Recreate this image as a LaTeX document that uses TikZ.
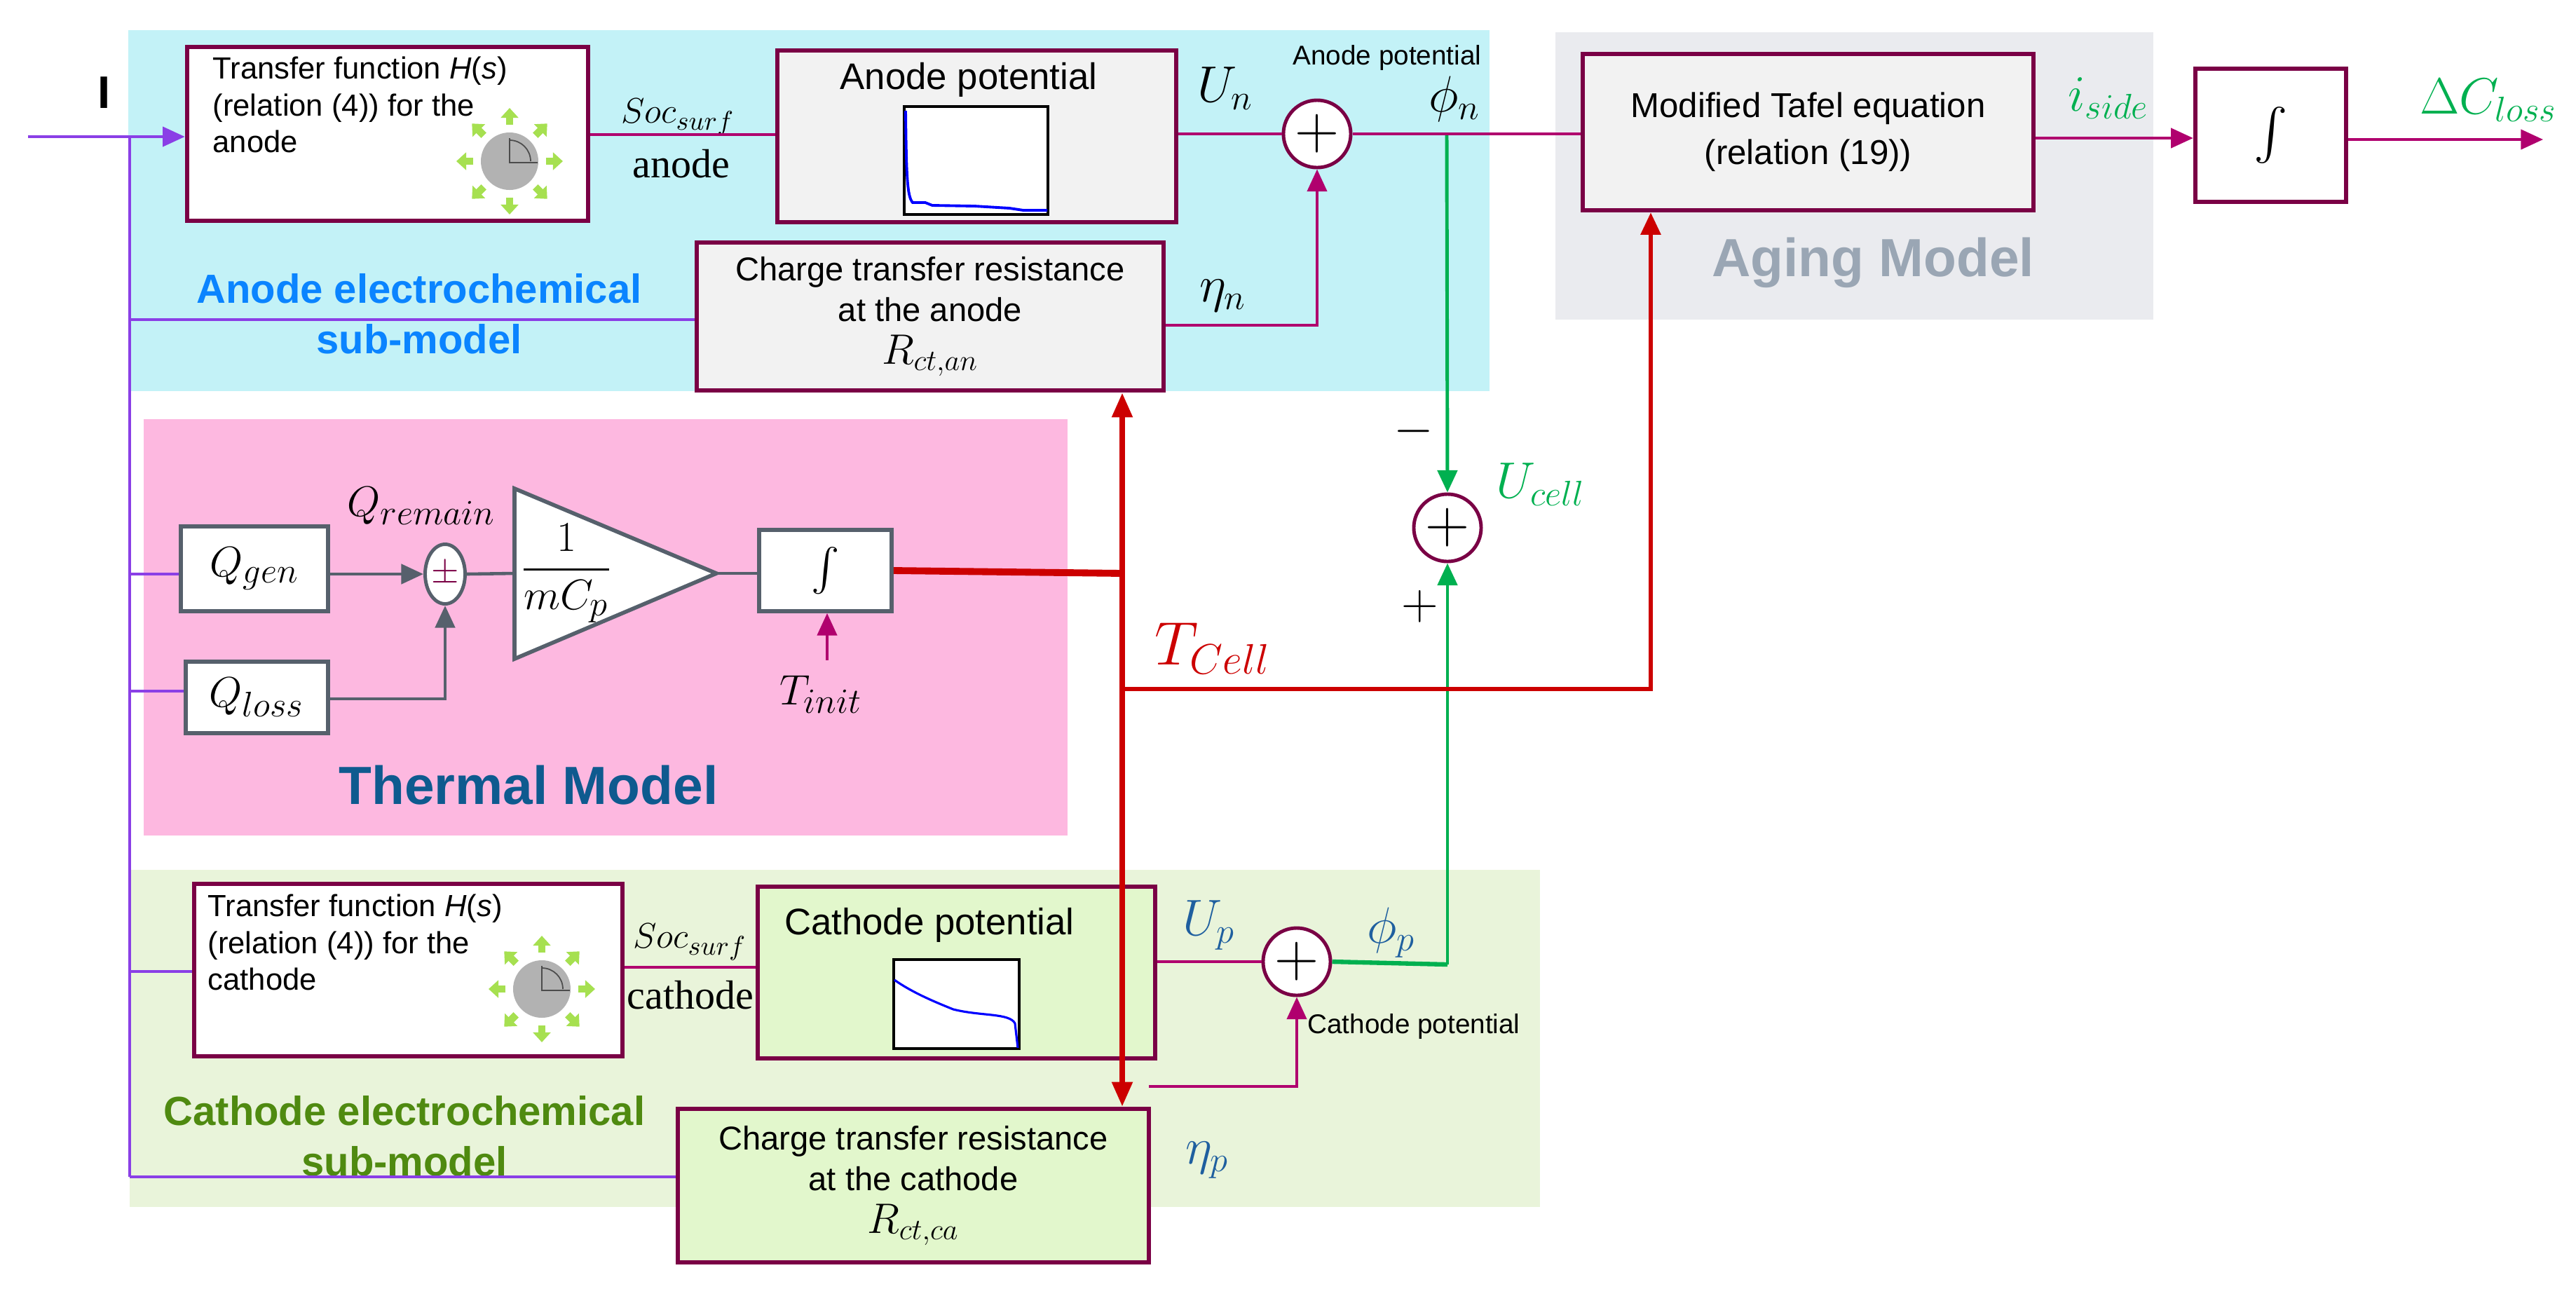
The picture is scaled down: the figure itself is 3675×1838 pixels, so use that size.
\documentclass[tikz,border=0pt]{standalone}
\usepackage{fontspec}
\setmainfont{Liberation Sans}
\newfontfamily\serifx{Liberation Serif}
\usepackage{amsmath}
\usetikzlibrary{arrows.meta,shapes.geometric,calc}
\definecolor{boxc}{HTML}{7A0045}
\definecolor{linec}{HTML}{B0006E}
\definecolor{purp}{HTML}{8A3FE6}
\definecolor{redc}{HTML}{CC0000}
\definecolor{grn}{HTML}{00B050}
\definecolor{blu}{HTML}{1F5F9F}
\definecolor{cyanbg}{HTML}{C3F2F7}
\definecolor{graybg}{HTML}{EAEBEF}
\definecolor{pinkbg}{HTML}{FDB8E0}
\definecolor{grnbg}{HTML}{E9F4DA}
\definecolor{lgray}{HTML}{F2F2F2}
\definecolor{lgrn}{HTML}{E2F7CC}
\definecolor{tgray}{HTML}{56606C}
\definecolor{icong}{HTML}{A6E050}
\definecolor{ablue}{HTML}{0A84FF}
\definecolor{cgr}{HTML}{4F8A10}
\definecolor{tb}{HTML}{0E5A8F}
\definecolor{ag}{HTML}{9AA6B4}
\begin{document}
\begin{tikzpicture}[x=0.01cm,y=-0.01cm,
 box/.style={draw=boxc,line width=1.8pt,fill=white,inner sep=0},
 tbox/.style={draw=tgray,line width=1.6pt,fill=white,inner sep=0},
 lab/.style={font=\fontsize{12.4}{15}\selectfont,align=left,inner sep=0},
 clab/.style={font=\fontsize{13.4}{16.5}\selectfont,align=center,inner sep=0},
 ml/.style={font=\fontsize{22}{24}\selectfont,inner sep=0},
 qm/.style={font=\fontsize{19}{22}\selectfont,inner sep=0},
 sm/.style={font=\fontsize{11}{13}\selectfont,inner sep=0},
 sumn/.style={circle,draw=boxc,line width=1.4pt,minimum size=0.96cm,inner sep=0,fill=white,font=\fontsize{24}{24}\selectfont},
 mline/.style={draw=linec,line width=1.1pt},
 pline/.style={draw=purp,line width=1.1pt},
 tip/.style={-{Triangle[length=9pt,width=8pt]}},
 big/.style={font=\bfseries\fontsize{16.5}{20.5}\selectfont,align=center,inner sep=0}]
\useasboundingbox (0,0) rectangle (3675,1838);
% backgrounds
\fill[cyanbg] (183,43) rectangle (2125,558);
\fill[graybg] (2219,46) rectangle (3072,456);
\fill[pinkbg] (205,598) rectangle (1523,1192);
\fill[grnbg] (185,1241) rectangle (2197,1722);
% boxes
\node[box,minimum width=5.72cm,minimum height=2.48cm] (TFa) at (553,191) {};
\node[lab,anchor=north west] (TFat) at (303,80) {Transfer function \textit{H}(\textit{s})\\(relation (4)) for the\\anode};
\node[box,fill=lgray,minimum width=5.69cm,minimum height=2.45cm] (Apot) at (1393.5,194.5) {};
\node[font=\fontsize{15}{18}\selectfont,inner sep=0] (Apott) at (1382,114) {Anode potential};
\node[box,fill=lgray,minimum width=6.66cm,minimum height=2.11cm,clab] (Rcan) at (1327,451.5) {Charge transfer resistance\\at the anode\\[1pt]{\fontsize{16.5}{18}\selectfont$R_{ct,an}$}};
\node[box,fill=lgray,minimum width=6.43cm,minimum height=2.23cm,font=\fontsize{14}{19}\selectfont,align=center] (Tafel) at (2579.5,188.5) {Modified Tafel equation\\(relation (19))};
\node[box,minimum width=2.15cm,minimum height=1.90cm,font=\fontsize{20}{22}\selectfont] (Int2) at (3239.5,193) {$\int$};
\node[box,minimum width=6.11cm,minimum height=2.46cm] (TFc) at (582.5,1384) {};
\node[lab,anchor=north west] (TFct) at (296,1275) {Transfer function \textit{H}(\textit{s})\\(relation (4)) for the\\cathode};
\node[box,fill=lgrn,minimum width=5.67cm,minimum height=2.45cm] (Cpot) at (1364.5,1387.5) {};
\node[font=\fontsize{15}{18}\selectfont,inner sep=0] (Cpott) at (1326,1320) {Cathode potential};
\node[box,fill=lgrn,minimum width=6.72cm,minimum height=2.19cm,clab] (Rcca) at (1303,1691.5) {Charge transfer resistance\\at the cathode\\[1pt]{\fontsize{16.5}{18}\selectfont$R_{ct,ca}$}};
% sums
\node[sumn] (Sa) at (1879,191) {$+$};
\node[sumn] (Sc) at (1850,1372) {$+$};
\node[sumn] (Su) at (2065,753) {$+$};
% thermal
\node[tbox,minimum width=2.10cm,minimum height=1.21cm,qm] (Qgen) at (363,811.5) {$Q_{gen}$};
\node[tbox,minimum width=2.03cm,minimum height=1.02cm,qm] (Qloss) at (366.5,995) {$Q_{loss}$};
\node[ellipse,draw=tgray,line width=1.4pt,fill=white,minimum width=0.57cm,minimum height=0.85cm,inner sep=0] (Pm) at (635,819) {};
\node[text=boxc,font=\bfseries\fontsize{15}{15}\selectfont,inner sep=0] (Pmt) at (635,819) {$\pm$};
\coordinate (GT) at (734,697);
\coordinate (GB) at (734,940);
\coordinate (GA) at (1022,818);
\coordinate (GW) at (734,818);
\filldraw[fill=white,draw=tgray,line width=1.6pt,line join=miter] (GT) -- (GA) -- (GB) -- cycle;
\node[qm] (Gt) at (808,818) {$\dfrac{1}{mC_p}$};
\node[tbox,minimum width=1.89cm,minimum height=1.16cm,font=\fontsize{18}{20}\selectfont] (Int1) at (1177.5,814) {$\int$};
\node[qm] (Qrem) at (601,722) {$Q_{remain}$};
\node[qm] (Tinit) at (1171,991) {$T_{init}$};
\coordinate (TiB) at (1180,942);
\draw[tgray,line width=1.3pt,tip] (Qgen.east|-Pm) -- (Pm.west);
\draw[tgray,line width=1.3pt,tip] (Qloss.east|-0,997) -| (Pm.south);
\draw[tgray,line width=1.3pt] (Pm.east) -- (GW);
\draw[tgray,line width=1.3pt] (GA) -- (Int1.west|-GA);
\draw[linec,line width=1.1pt,tip] (TiB) -- (Int1.south-|TiB);
% labels
\node[font=\bfseries\fontsize{18.5}{18.5}\selectfont,inner sep=0] (I) at (149,132) {I};
\node[font=\fontsize{15}{17}\selectfont,inner sep=0] (Soca) at (967,167) {$Soc_{surf}$};
\node[font=\serifx\fontsize{16.5}{18}\selectfont,inner sep=0] (ana) at (972,234) {anode};
\node[font=\fontsize{15}{17}\selectfont,inner sep=0] (Socc) at (984,1344) {$Soc_{surf}$};
\node[font=\serifx\fontsize{16.5}{18}\selectfont,inner sep=0] (cac) at (985,1420) {cathode};
\node[ml] (Un) at (1748,126) {$U_n$};
\node[ml] (etan) at (1745,422) {$\eta_n$};
\node[sm] (apl) at (1979,82) {Anode potential};
\node[ml] (phin) at (2075,141) {$\phi_n$};
\node[ml,text=blu] (Up) at (1725,1320) {$U_p$};
\node[ml,text=blu] (etap) at (1722,1655) {$\eta_p$};
\node[ml,text=blu] (phip) at (1985,1331) {$\phi_p$};
\node[sm] (cpl) at (2017,1464) {Cathode potential};
\node[ml,text=grn,font=\fontsize{21}{24}\selectfont] (Ucell) at (2198,691) {$U_{cell}$};
\node[font=\fontsize{22}{22}\selectfont,inner sep=0] (minus) at (2017,615) {$-$};
\node[font=\fontsize{22}{22}\selectfont,inner sep=0] (plus) at (2026,865) {$+$};
\node[ml,text=redc,font=\fontsize{24}{26}\selectfont] (Tc) at (1730,925) {$T_{Cell}$};
\node[ml,text=grn,font=\fontsize{21}{24}\selectfont] (iside) at (3008,140) {$i_{side}$};
\node[ml,text=grn,font=\fontsize{21}{24}\selectfont] (dC) at (3550,143) {$\Delta C_{loss}$};
\node[big,text=ablue] (Anl) at (598,448) {Anode electrochemical\\sub-model};
\node[big,text=cgr] (Cl) at (577,1621) {Cathode electrochemical\\sub-model};
\node[big,text=tb,font=\bfseries\fontsize{21.8}{24}\selectfont] (Tml) at (754,1120) {Thermal Model};
\node[big,text=ag,font=\bfseries\fontsize{21.8}{24}\selectfont] (Agl) at (2672,375) {Aging Model};
% input lines
\coordinate (In) at (40,195);
\coordinate (Ltop) at (185,195);
\coordinate (Lbot) at (185,1679);
\draw[pline,tip] (In) -- (TFa.west|-In);
\draw[pline] (Ltop) -- (Lbot);
\draw[pline] (185,456) -- (Rcan.west|-0,456);
\draw[pline] (185,819) -- (Qgen.west|-0,819);
\draw[pline] (185,986) -- (Qloss.west|-0,986);
\draw[pline] (185,1386) -- (TFc.west|-0,1386);
\draw[pline] (Lbot) -- (Rcca.west|-Lbot);
% anode chain
\draw[mline] (TFa.east|-0,192) -- (Apot.west|-0,192);
\draw[mline] (Apot.east|-Sa) -- (Sa.west);
\draw[mline,tip] (Rcan.east|-0,464) -| (Sa.south);
\draw[mline] (Sa.east) -- (Tafel.west|-Sa);
\draw[mline,tip] (Tafel.east|-0,197) -- (Int2.west|-0,197);
\coordinate (Out) at (3628,199);
\draw[mline,tip] (Int2.east|-Out) -- (Out);
% cathode chain
\draw[mline] (TFc.east|-0,1380) -- (Cpot.west|-0,1380);
\draw[mline] (Cpot.east|-Sc) -- (Sc.west);
\coordinate (Rcs) at (1639,1550);
\draw[mline,tip] (Rcs) -| (Sc.south);
% green
\coordinate (PhiN) at (2064,193);
\draw[grn,line width=1.4pt,tip] (PhiN) -- (Su.north);
\coordinate (PhiP) at (2065,1376);
\draw[grn,line width=1.8pt] (Sc.east) -- (PhiP);
\draw[grn,line width=1.4pt,tip] (PhiP) -- (Su.south);
% red
\coordinate (Rj) at (1601,818);
\draw[redc,line width=2.8pt] (Int1.east) -- (Rj);
\draw[redc,line width=2.2pt,{Triangle[length=10pt,width=8pt]}-{Triangle[length=10pt,width=8pt]}] (Rcan.south-|Rj) -- (Rcca.north-|Rj);
\coordinate (Rt) at (1601,983);
\draw[redc,line width=1.6pt,tip] (Rt) -| (Tafel.south-|2355,0);
% anode plot
\draw[black,fill=white,line width=0.9pt] (1290,152) rectangle (1495,306);
\draw[blue,line width=1.1pt] (1292,158) .. controls (1293,250) and (1294,280) .. (1302,289) -- (1320,289) -- (1330,293) -- (1390,294) -- (1440,297) -- (1460,300) -- (1494,300);
% cathode plot
\draw[black,fill=white,line width=0.9pt] (1275,1369) rectangle (1454,1496);
\draw[blue,line width=0.9pt] (1276,1398) .. controls (1300,1415) and (1330,1428) .. (1360,1440) .. controls (1400,1450) and (1440,1445) .. (1448,1460) -- (1452,1495);
% icons
\foreach \cx/\cy in {727/230,773/1411}{
 \begin{scope}[shift={(\cx,\cy)}]
 \fill[gray!60] (0,0) circle (41);
 \draw[black!70,line width=0.5pt] (0,-33) -- (0,2) -- (40,2);
 \draw[black!70,line width=0.5pt] (0,-30) arc (-90:0:30);
 \foreach \a in {0,45,...,315}
  \draw[icong,line width=3pt,-{Triangle[length=4pt,width=7pt]}] (\a:52) -- (\a:76);
 \end{scope}}
\end{tikzpicture}
\end{document}
